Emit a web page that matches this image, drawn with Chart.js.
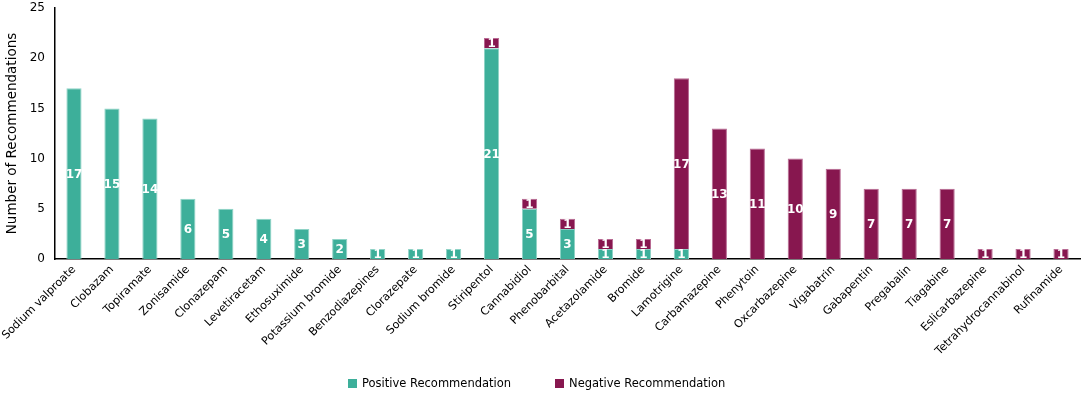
<!DOCTYPE html>
<html>
<head>
<meta charset="utf-8">
<script src="https://cdn.jsdelivr.net/npm/chart.js@4.4.0/dist/chart.umd.min.js"></script>
<style>
  html, body { margin: 0; padding: 0; background: #fff; }
  #wrap { width: 1084px; height: 396px; position: relative; }
  #legend { position: absolute; left: 348px; top: 376px; display: flex; gap: 44px;
    font: 11.5px "DejaVu Sans", Verdana, sans-serif; color: #000; }
  #legend span.item { display: flex; align-items: center; }
  #legend i { display: inline-block; width: 9px; height: 9px; margin-right: 5px; }
</style>
</head>
<body>
<div id="wrap"><canvas id="chart"></canvas><div id="legend"></div></div>
<script>
const drugs = ['Sodium valproate', 'Clobazam', 'Topiramate', 'Zonisamide', 'Clonazepam',
  'Levetiracetam', 'Ethosuximide', 'Potassium bromide', 'Benzodiazepines', 'Clorazepate',
  'Sodium bromide', 'Stiripentol', 'Cannabidiol', 'Phenobarbital', 'Acetazolamide', 'Bromide',
  'Lamotrigine', 'Carbamazepine', 'Phenytoin', 'Oxcarbazepine', 'Vigabatrin', 'Gabapentin',
  'Pregabalin', 'Tiagabine', 'Eslicarbazepine', 'Tetrahydrocannabinol', 'Rufinamide'];
const positive = [17, 15, 14, 6, 5, 4, 3, 2, 1, 1, 1, 21, 5, 3, 1, 1, 1, 0, 0, 0, 0, 0, 0, 0, 0, 0, 0];
const negative = [0, 0, 0, 0, 0, 0, 0, 0, 0, 0, 0, 1, 1, 1, 1, 1, 17, 13, 11, 10, 9, 7, 7, 7, 1, 1, 1];
const yTicks = [0, 5, 10, 15, 20, 25];

const fontFam = '"DejaVu Sans", Verdana, sans-serif';

// étiquettes blanches au centre des barres
const barLabels = {
  id: 'barLabels',
  afterDatasetsDraw(chart) {
    const ctx = chart.ctx;
    ctx.save();
    ctx.fillStyle = '#ffffff';
    ctx.font = 'bold 12px ' + fontFam;
    ctx.textAlign = 'center';
    ctx.textBaseline = 'middle';
    chart.data.datasets.forEach((ds, i) => {
      chart.getDatasetMeta(i).data.forEach((bar, j) => {
        const v = ds.data[j];
        if (!v) return;
        const mid = (bar.y + bar.base) / 2;
        ctx.fillText(String(v), bar.x, mid + 1);
      });
    });
    ctx.restore();
  }
};

const chart = new Chart(document.getElementById('chart'), {
  type: 'bar',
  data: {
    labels: drugs,
    datasets: [
      {
        label: 'Positive Recommendation',
        data: positive,
        backgroundColor: '#3daf9a',
        borderColor: '#8fd3c6',
        borderWidth: 1,
        barPercentage: 0.8,
        categoryPercentage: 0.5
      },
      {
        label: 'Negative Recommendation',
        data: negative,
        backgroundColor: '#87174f',
        borderColor: '#b86a93',
        borderWidth: 1,
        barPercentage: 0.8,
        categoryPercentage: 0.5
      }
    ]
  },
  options: {
    responsive: true,
    maintainAspectRatio: false,
    animation: false,
    layout: { padding: { left: 0, right: 4, top: 0, bottom: 37 } },
    scales: {
      x: {
        stacked: true,
        grid: { display: false, drawTicks: false },
        border: { color: '#000', width: 1.5 },
        afterFit(axis) { axis.height = 100; axis.paddingLeft = 0; },
        ticks: {
          autoSkip: false,
          maxRotation: 45,
          minRotation: 45,
          color: '#000',
          padding: 4,
          font: { family: fontFam, size: 11.2 }
        }
      },
      y: {
        stacked: true,
        min: 0,
        max: 25,
        afterBuildTicks(axis) { axis.ticks = yTicks.map(v => ({ value: v })); },
        afterFit(axis) { axis.width = 55; axis.paddingTop = 8; },
        grid: { display: false, drawOnChartArea: false, drawTicks: true, tickLength: 4, color: '#000' },
        border: { color: '#000', width: 1.5 },
        ticks: { color: '#000', padding: 6, font: { family: fontFam, size: 12 } },
        title: {
          display: true,
          text: 'Number of Recommendations',
          color: '#000',
          padding: { top: 4, bottom: 0 },
          font: { family: fontFam, size: 13.5 }
        }
      }
    },
    plugins: {
      legend: { display: false },
      tooltip: { enabled: false }
    }
  },
  plugins: [barLabels]
});

// légende HTML (espacement plus large que celui de Chart.js)
const legendBox = document.getElementById('legend');
chart.data.datasets.forEach(ds => {
  const item = document.createElement('span');
  item.className = 'item';
  const sw = document.createElement('i');
  sw.style.background = ds.backgroundColor;
  item.appendChild(sw);
  item.appendChild(document.createTextNode(ds.label));
  legendBox.appendChild(item);
});
</script>
</body>
</html>
